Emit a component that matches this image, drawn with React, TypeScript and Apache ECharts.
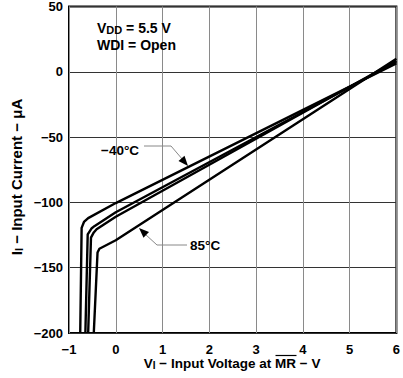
import React, { useEffect, useRef } from "react";
import * as echarts from "echarts";

// Data (V, µA)
const curveM40: [number, number][] = [
  [-0.76, -200], [-0.73, -119.5], [-0.68, -115], [-0.59, -112], [0, -100.5], [6, 6.5],
];
const curveMid1: [number, number][] = [
  [-0.65, -200], [-0.6, -124.5], [-0.52, -120], [-0.45, -118], [0, -107.5], [6, 7.5],
];
const curveMid2: [number, number][] = [
  [-0.59, -200], [-0.53, -127], [-0.47, -123], [-0.41, -120.5], [0, -111], [6, 8.5],
];
const curve85: [number, number][] = [
  [-0.47, -200], [-0.39, -138.4], [-0.35, -135.5], [0, -129], [6, 10],
];
const xTicks = { min: -1, max: 6, interval: 1 };
const yTicks = { min: -200, max: 50, interval: 50 };

const FONT = "'Liberation Sans', Arial, sans-serif";

export default function App() {
  const ref = useRef<HTMLDivElement>(null);
  useEffect(() => {
    if (!ref.current) return;
    const chart = echarts.init(ref.current, null, { renderer: "svg" });
    const lineSeries = (name: string, data: [number, number][]) => ({
      name,
      type: "line",
      data,
      showSymbol: false,
      symbol: "none",
      lineStyle: { color: "#000", width: 2.4 },
      z: 5,
    });
    const minus = (v: number) => String(v).replace("-", "\u2212");

    const rich = (main: number, sub: number, subPad: number, lh: number) => ({
      a: { fontFamily: FONT, fontWeight: "bold", fontSize: main, fill: "#000", lineHeight: lh, verticalAlign: "bottom" },
      b: { fontFamily: FONT, fontWeight: "bold", fontSize: sub, fill: "#000", lineHeight: lh, verticalAlign: "bottom", padding: [subPad, 0, 0, 0] },
    });

    const XT = 13.5, XS = 10;
    const mrX = 275; // left edge of "MR"
    const mrW = 1.555 * XT;
    const sp = 0.278 * XT;
    const plain = (size: number) => ({
      fontFamily: FONT, fontWeight: "bold", fontSize: size, fill: "#000",
    });

    chart.setOption({
      animation: false,
      backgroundColor: "#fff",
      grid: {
        left: 69, right: 3, top: 3, bottom: 45,
        show: true, borderColor: "#000", borderWidth: 2,
      },
      xAxis: {
        type: "value",
        min: xTicks.min, max: xTicks.max, interval: xTicks.interval,
        axisLine: { show: false },
        axisTick: { show: false },
        splitLine: { show: true, lineStyle: { color: "#8a8a8a", width: 1 } },
        axisLabel: {
          color: "#000", fontFamily: FONT, fontWeight: "bold", fontSize: 13,
          lineHeight: 13, margin: 10, formatter: minus,
        },
      },
      yAxis: {
        type: "value",
        min: yTicks.min, max: yTicks.max, interval: yTicks.interval,
        axisLine: { show: false },
        axisTick: { show: false },
        splitLine: { show: true, lineStyle: { color: "#333", width: 1 } },
        axisLabel: {
          color: "#000", fontFamily: FONT, fontWeight: "bold", fontSize: 13,
          margin: 6, formatter: minus,
        },
      },
      series: [
        lineSeries("-40°C", curveM40),
        lineSeries("mid1", curveMid1),
        lineSeries("mid2", curveMid2),
        lineSeries("85°C", curve85),
      ],
      graphic: [
        {
          type: "text", x: 97, y: 28, z: 10,
          style: {
            text: "{a|V}{b|DD}{a| = 5.5 V}",
            textVerticalAlign: "middle",
            rich: rich(14, 11, 5, 14),
          },
        },
        {
          type: "text", x: 97, y: 45, z: 10,
          style: { text: "WDI = Open", ...plain(14), textVerticalAlign: "middle" },
        },
        // -40°C annotation
        {
          type: "text", x: 101, y: 150, z: 10,
          style: { text: "\u221240\u00b0C", ...plain(13.5), textVerticalAlign: "middle" },
        },
        {
          type: "polyline", z: 10,
          shape: { points: [[144, 146], [171, 146], [183, 160]] },
          style: { stroke: "#888", lineWidth: 1, fill: "none" },
        },
        {
          type: "polygon", z: 10,
          shape: { points: [[188, 166], [178.5, 161], [184.5, 155.8]] },
          style: { fill: "#000" },
        },
        // 85°C annotation
        {
          type: "text", x: 190, y: 245, z: 10,
          style: { text: "85\u00b0C", ...plain(13.5), textVerticalAlign: "middle" },
        },
        {
          type: "polyline", z: 10,
          shape: { points: [[187, 245], [157, 245], [145, 234]] },
          style: { stroke: "#888", lineWidth: 1, fill: "none" },
        },
        {
          type: "polygon", z: 10,
          shape: { points: [[139, 228], [149, 232], [143.5, 237.8]] },
          style: { fill: "#000" },
        },
        // x axis title: "V_I − Input Voltage at" + "MR − V" with overline on "MR"
        {
          type: "text", x: mrX - sp, y: 363, z: 10,
          style: {
            text: "{a|V}{b|I}{a| \u2212 Input Voltage at}",
            textAlign: "right", textVerticalAlign: "middle",
            rich: rich(XT, XS, 4, 14),
          },
        },
        {
          type: "text", x: mrX, y: 363, z: 10,
          style: {
            text: "{a|MR \u2212 V}",
            textAlign: "left", textVerticalAlign: "middle",
            rich: rich(XT, XS, 4, 14),
          },
        },
        {
          type: "line", z: 10,
          shape: { x1: mrX + 0.5, y1: 355.5, x2: mrX + mrW + 0.5, y2: 355.5 },
          style: { stroke: "#000", lineWidth: 1.2 },
        },
        // y axis title
        {
          type: "text", x: 15, y: 177, rotation: Math.PI / 2, z: 10,
          style: {
            text: "{a|I}{b|I}{a| \u2212 Input Current \u2212 \u03bcA}",
            textAlign: "center", textVerticalAlign: "middle",
            rich: rich(15, 11, 6, 18),
          },
        },
      ],
    });
    return () => chart.dispose();
  }, []);
  return (
    <div
      ref={ref}
      style={{ position: "fixed", left: 0, top: 0, width: 403, height: 378, background: "#fff" }}
    />
  );
}
